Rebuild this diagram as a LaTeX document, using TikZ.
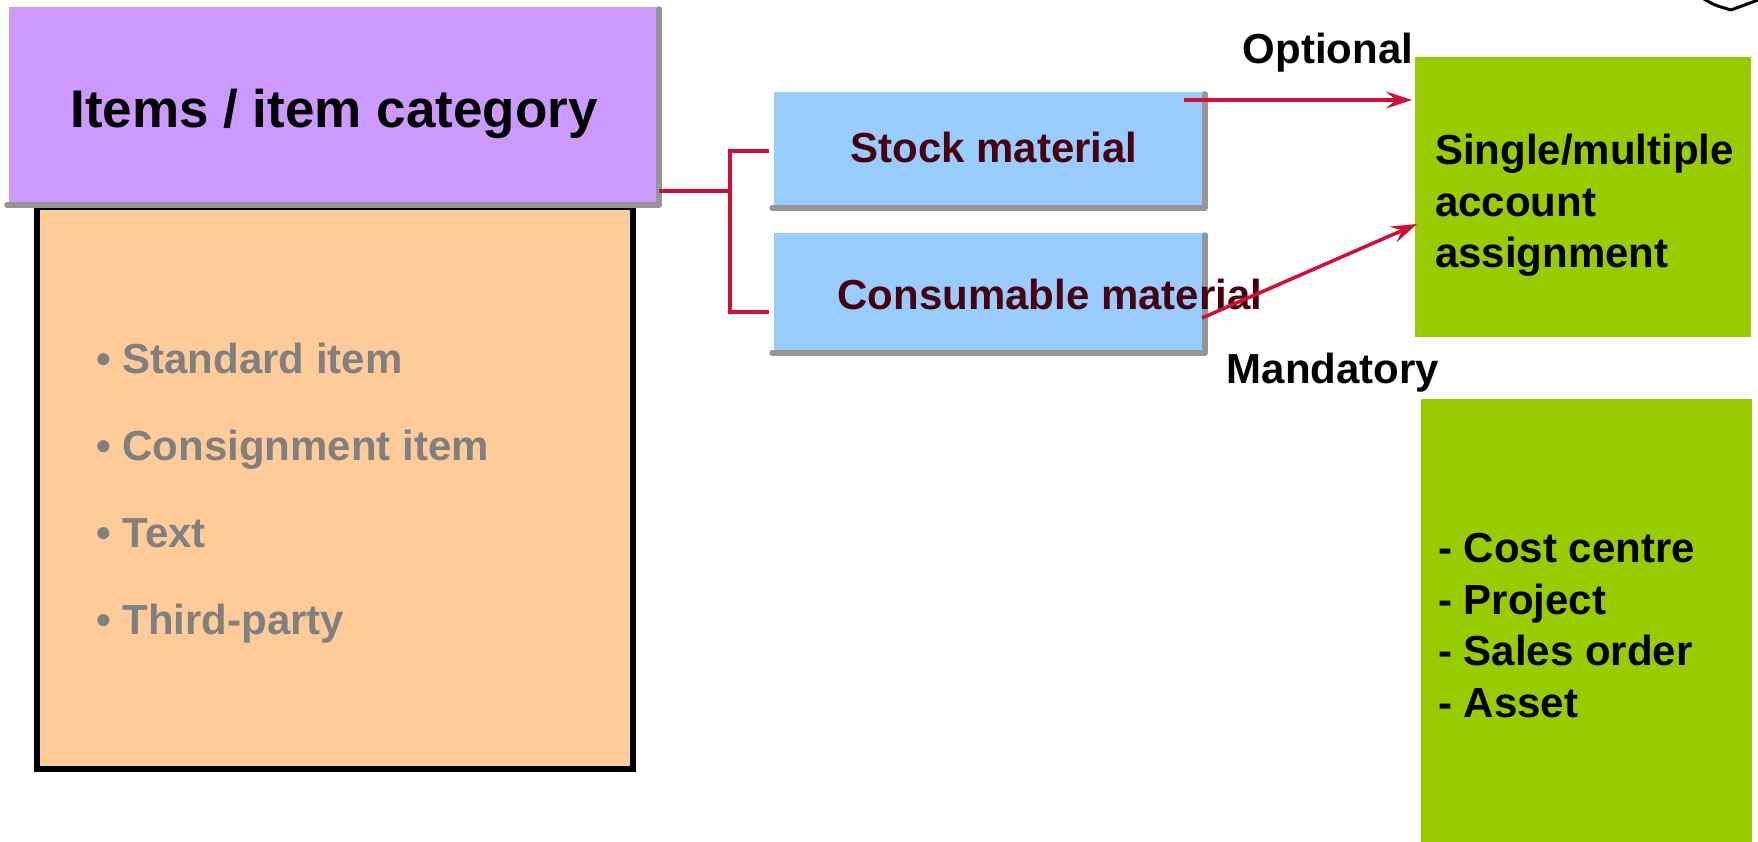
\documentclass[tikz,border=0pt]{standalone}
\usepackage{fontspec}
\setmainfont{Liberation Sans}
\usetikzlibrary{arrows.meta,calc}
\definecolor{lilac}{RGB}{204,153,255}
\definecolor{peach}{RGB}{255,204,153}
\definecolor{skyblue}{RGB}{153,204,255}
\definecolor{lime}{RGB}{153,204,0}
\definecolor{crimson}{RGB}{208,16,52}
\definecolor{darkmaroon}{RGB}{72,0,16}
\definecolor{shade}{RGB}{150,150,150}
\definecolor{bulletgray}{RGB}{128,128,128}
\begin{document}
\begin{tikzpicture}[x=1pt,y=-1pt,
  box/.style={inner sep=0pt, outer sep=0pt, anchor=north west},
  shadowline/.style={draw=shade, line width=5.5pt, line cap=round, line join=round},
  link/.style={draw=crimson, line width=4pt},
  arrowlink/.style={link, line width=3.5pt, -{Stealth[length=26pt,width=17pt,inset=10pt]}},
  big/.style={font=\fontsize{42}{51.5}\selectfont\bfseries, inner sep=0pt},
  title/.style={font=\fontsize{53}{60}\selectfont\bfseries, inner sep=0pt},
]
\useasboundingbox (0,0) rectangle (1758,842);

% list panel, partly hidden under the heading bar
\node[box, fill=peach, draw=black, line width=5.5pt,
      minimum width=596pt, minimum height=562pt] (list) at (37,207) {};

% heading bar
\node[box, fill=lilac, minimum width=648pt, minimum height=196pt] (head) at (9,7) {};
\draw[shadowline] ($(head.south west)+(-2,2)$) -- ($(head.south east)+(2,2)$)
                  -- ($(head.north east)+(2,2)$);
\node[title, anchor=base] (headtext) at (334,128) {Items / item category};

% item categories (base anchor sits on the last line)
\node[big, anchor=base west, text=bulletgray, align=left,
      font=\fontsize{42}{87}\selectfont\bfseries] (cats) at (96,634)
  {\textbullet\ Standard item\\\textbullet\ Consignment item\\\textbullet\ Text\\\textbullet\ Third-party};

% material boxes
\node[box, fill=skyblue, minimum width=429pt, minimum height=114pt] (stock) at (774,92) {};
\draw[shadowline] ($(stock.south west)+(-2,2)$) -- ($(stock.south east)+(2,2)$)
                  -- ($(stock.north east)+(2,2)$);
\node[box, fill=skyblue, minimum width=429pt, minimum height=118pt] (cons) at (774,233) {};
\draw[shadowline] ($(cons.south west)+(-2,2)$) -- ($(cons.south east)+(2,2)$)
                  -- ($(cons.north east)+(2,2)$);
\node[big, anchor=base, text=darkmaroon] (stocktext) at (994,163) {Stock material};
\node[big, anchor=base, text=darkmaroon] (constext) at (1050,309) {Consumable material};

% account assignment boxes
\node[box, fill=lime, minimum width=336pt, minimum height=280pt] (acct) at (1415,57) {};
\node[big, anchor=base west, align=left] (accttext) at (1435,268)
  {Single/multiple\\account\\assignment};
\node[box, fill=lime, minimum width=331pt, minimum height=443pt] (objs) at (1421,399) {};
\node[big, anchor=base west, align=left] (objstext) at (1438,717)
  {- Cost centre\\- Project\\- Sales order\\- Asset};

% connectors
\coordinate (fork) at (730,191);
\draw[link] ($(head.south east)+(2,-12)$) -- (fork);
\draw[link] ($(stock.west)+(-5,2)$) -| (fork) |- ($(cons.west)+(-5,20)$);
\draw[arrowlink] ($(stock.north east)+(-19,8)$) -- ($(acct.north west)+(-3,43)$);
\draw[arrowlink] ($(cons.north east)+(-1,85)$) -- ($(acct.north west)+(2,167)$);

% arrow labels
\node[big, anchor=base] (opt) at (1328,64) {Optional};
\node[big, anchor=base] (mand) at (1333,383) {Mandatory};

% stroke entering at the top right corner
\draw[line width=3pt, line cap=round, line join=round]
  (1704,-1) .. controls (1714,5) .. (1731,10) -- (1758,0);
\end{tikzpicture}
\end{document}
